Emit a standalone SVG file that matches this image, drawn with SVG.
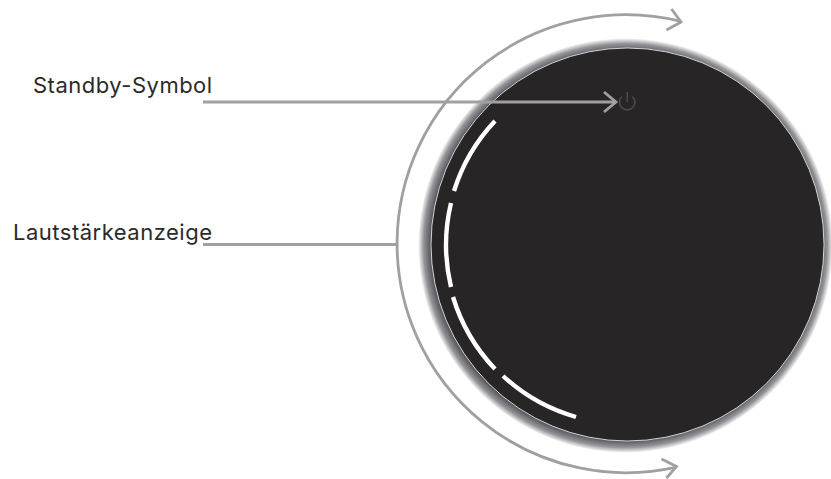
<svg xmlns="http://www.w3.org/2000/svg" width="831" height="479" viewBox="0 0 831 479">
<style>
.lbl{font-family:"Inter","Liberation Sans",sans-serif;font-size:22px;fill:#2b2a2b;letter-spacing:.5px}
.con{fill:none;stroke:#a0a0a3;stroke-width:2.8}
.seg{fill:none;stroke:#fff;stroke-width:4.4}
</style>
<defs>
<radialGradient id="halo" gradientUnits="userSpaceOnUse" cx="625.5" cy="245.5" r="207">
<stop offset="0.945" stop-color="#5c5c61"/>
<stop offset="0.975" stop-color="#949498"/>
<stop offset="1" stop-color="#f6f6f6"/>
</radialGradient>
</defs>
<rect width="831" height="479" fill="#fff"/>
<g id="knob">
<circle cx="625.5" cy="245.5" r="207" fill="url(#halo)"/>
<circle cx="627.5" cy="244.5" r="196.5" fill="#272526" stroke="#e4e4e4" stroke-width="0.9"/>
</g>
<g id="volume-indicator">
<path class="seg" d="M495 121A181 181 0 0 0 454 191"/>
<path class="seg" d="M451 203A181 181 0 0 0 451 287"/>
<path class="seg" d="M453 297A181 181 0 0 0 495 369"/>
<path class="seg" d="M503 376A181 181 0 0 0 576 417"/>
</g>
<g id="standby-icon" fill="none" stroke="#4c4b4c" stroke-width="1.6">
<path d="M622 96.5A7.7 7.7 0 1 0 632.4 96.5"/>
<path d="M627.2 92V102"/>
</g>
<g id="connectors">
<path class="con" d="M203 102H616M604 92L616 102L604 112"/>
<path class="con" d="M203 244.5H397"/>
<path class="con" d="M676.5 467.1A229 229 0 1 1 681 21.4"/>
<path class="con" d="M671.5 9L681 22L666.5 30"/>
<path class="con" d="M661.5 459L676.5 466.5L666.5 478"/>
</g>
<g id="label-standby"><text class="lbl" x="33" y="92.7">Standby-Symbol</text></g>
<g id="label-volume"><text class="lbl" x="13" y="240">Lautstärkeanzeige</text></g>
</svg>
